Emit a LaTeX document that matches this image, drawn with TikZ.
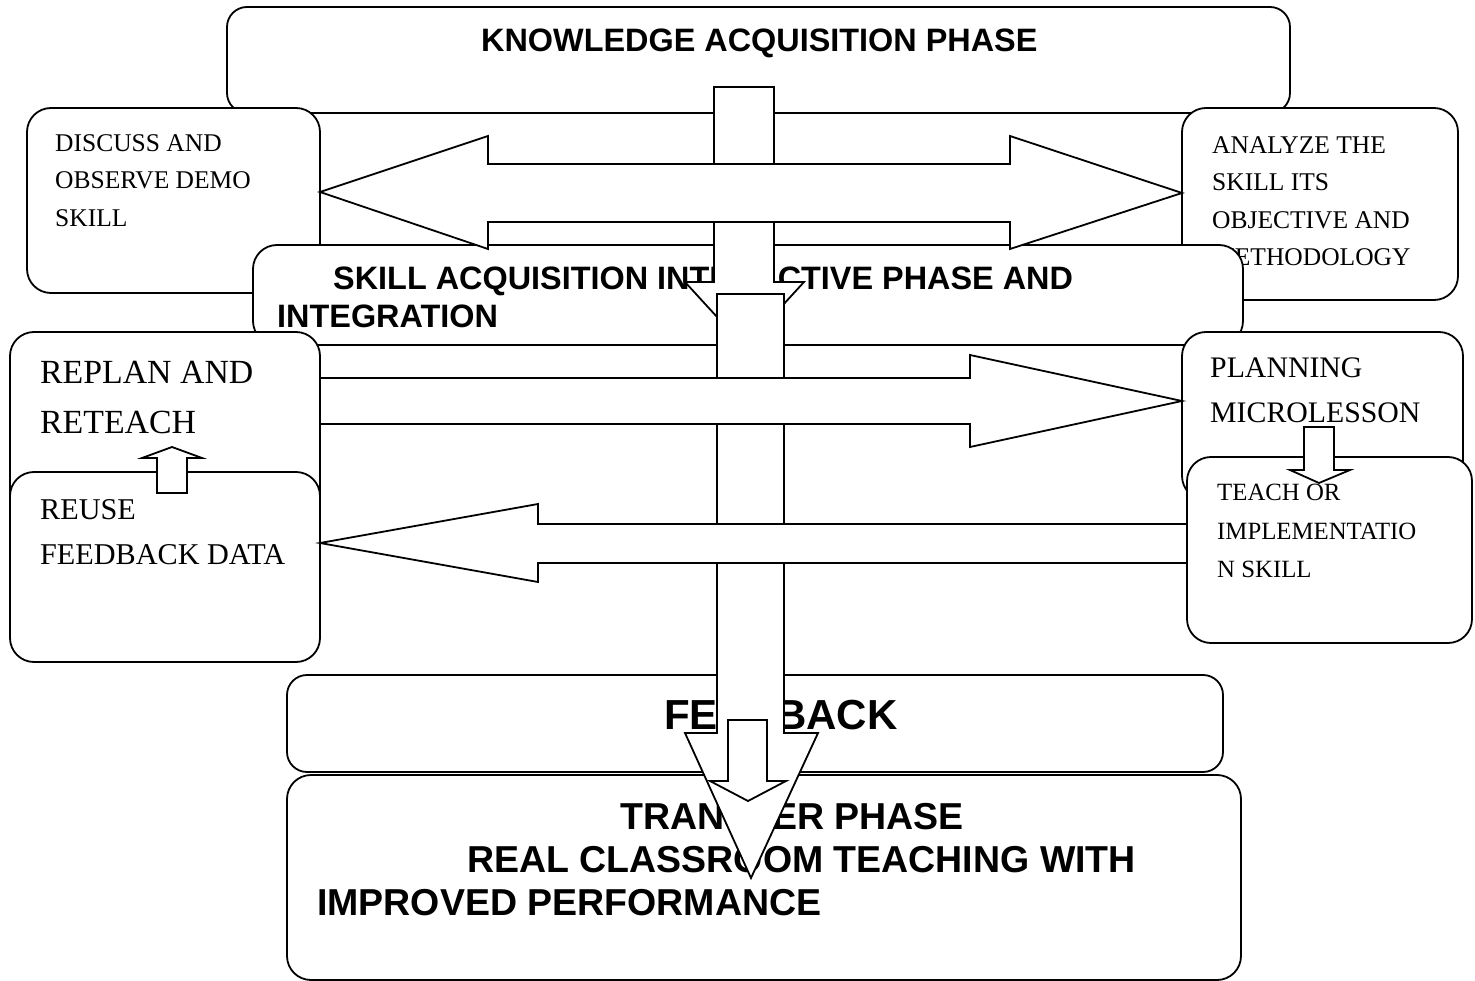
\documentclass[tikz,border=0pt]{standalone}
\usepackage{fontspec}
\setmainfont{Liberation Serif}
\setsansfont{Liberation Sans}
\tikzset{box/.style={draw,fill=white,rounded corners=24pt,line width=1.8pt,inner sep=0pt}}
\tikzset{blk/.style={draw,fill=white,line width=1.8pt}}
\tikzset{lbl/.style={anchor=north west,inner sep=0pt,align=left}}
\tikzset{hd/.style={inner sep=0pt,align=left,font=\sffamily\bfseries\fontsize{32.4}{37.5}\selectfont}}

\begin{document}
\begin{tikzpicture}[x=1pt,y=-1pt]
\useasboundingbox (0,0) rectangle (1475,981);

\node[box, rounded corners=20pt, minimum width=1063pt, minimum height=106pt] (knowledge) at (758.5,60) {};
\node[hd, anchor=base west] (knowledgelbl) at (481,52) {KNOWLEDGE ACQUISITION PHASE};

\node[box, minimum width=293pt, minimum height=185pt] (discuss) at (173.5,200.5) {};
\node[lbl, font=\fontsize{25.5}{37.5}\selectfont] (discusslbl) at (55,134) {DISCUSS AND\\OBSERVE DEMO\\SKILL};

\node[box, minimum width=276pt, minimum height=192pt] (analyze) at (1320,204) {};
\node[lbl, font=\fontsize{25.5}{37.5}\selectfont] (analyzelbl) at (1212,136) {ANALYZE THE\\SKILL ITS\\OBJECTIVE AND\\METHODOLOGY};

\node[box, minimum width=990pt, minimum height=100pt] (skill) at (748,295) {};
\node[hd, anchor=north west] (skilllbl) at (277,267) {\hspace*{56pt}SKILL ACQUISITION INTERACTIVE PHASE AND\\INTEGRATION};

\draw[blk] (714,87) -- (774,87) -- (774,282) -- (804,282) -- (744.5,347) -- (685,282) -- (714,282) -- cycle;
\draw[blk] (320,192) -- (488,136) -- (488,164) -- (1010,164) -- (1010,136) -- (1182,193)
  -- (1010,249) -- (1010,222) -- (488,222) -- (488,249) -- cycle;

\node[box, minimum width=310pt, minimum height=188pt] (replan) at (165,426) {};
\node[lbl, font=\fontsize{33.8}{50}\selectfont] (replanlbl) at (40,361) {REPLAN AND\\RETEACH};
\node[box, minimum width=310pt, minimum height=190pt] (reuse) at (165,567) {};
\node[lbl, font=\fontsize{30.2}{45}\selectfont] (reuselbl) at (40,499) {REUSE\\FEEDBACK DATA};
\draw[blk] (157,493) -- (157,458) -- (142,458) -- (172,447) -- (202,458) -- (187,458) -- (187,493) -- cycle;

\node[box, minimum width=281pt, minimum height=168pt] (planning) at (1322.5,416) {};
\node[lbl, font=\fontsize{29.8}{45}\selectfont] (planninglbl) at (1210,358) {PLANNING\\MICROLESSON};
\node[box, minimum width=285pt, minimum height=186pt] (teach) at (1329.5,550) {};
\node[lbl, font=\fontsize{24.8}{38.5}\selectfont] (teachlbl) at (1217,484) {TEACH OR\\IMPLEMENTATIO\\N SKILL};
\draw[blk] (1304,427) -- (1334,427) -- (1334,470) -- (1350,470) -- (1319,483) -- (1290,470) -- (1304,470) -- cycle;

\node[box, rounded corners=20pt, minimum width=936pt, minimum height=97pt] (feedback) at (755,723.5) {};
\node[hd, anchor=base west, font=\sffamily\bfseries\fontsize{42}{48}\selectfont] (feedbacklbl) at (664,729) {FEEDBACK};
\node[box, minimum width=954pt, minimum height=205pt] (transfer) at (764,877.5) {};
\node[hd, anchor=north west, font=\sffamily\bfseries\fontsize{37.5}{43}\selectfont] (transferlbl) at (317,803)
  {\hspace*{303pt}TRANSFER PHASE\\\hspace*{150pt}REAL CLASSROOM TEACHING WITH\\IMPROVED PERFORMANCE};

\draw[blk] (717,294) -- (784,294) -- (784,733) -- (818,733) -- (751,878) -- (685,733) -- (717,733) -- cycle;
\draw[blk] (320,378) -- (970,378) -- (970,355) -- (1182,401) -- (970,447) -- (970,424) -- (320,424) -- cycle;
\draw[blk] (1187,524) -- (538,524) -- (538,504) -- (320,543) -- (538,582) -- (538,563) -- (1187,563) -- cycle;
\draw[blk] (728,720) -- (767,720) -- (767,781) -- (786,781) -- (748,801) -- (710,781) -- (728,781) -- cycle;
\end{tikzpicture}
\end{document}
